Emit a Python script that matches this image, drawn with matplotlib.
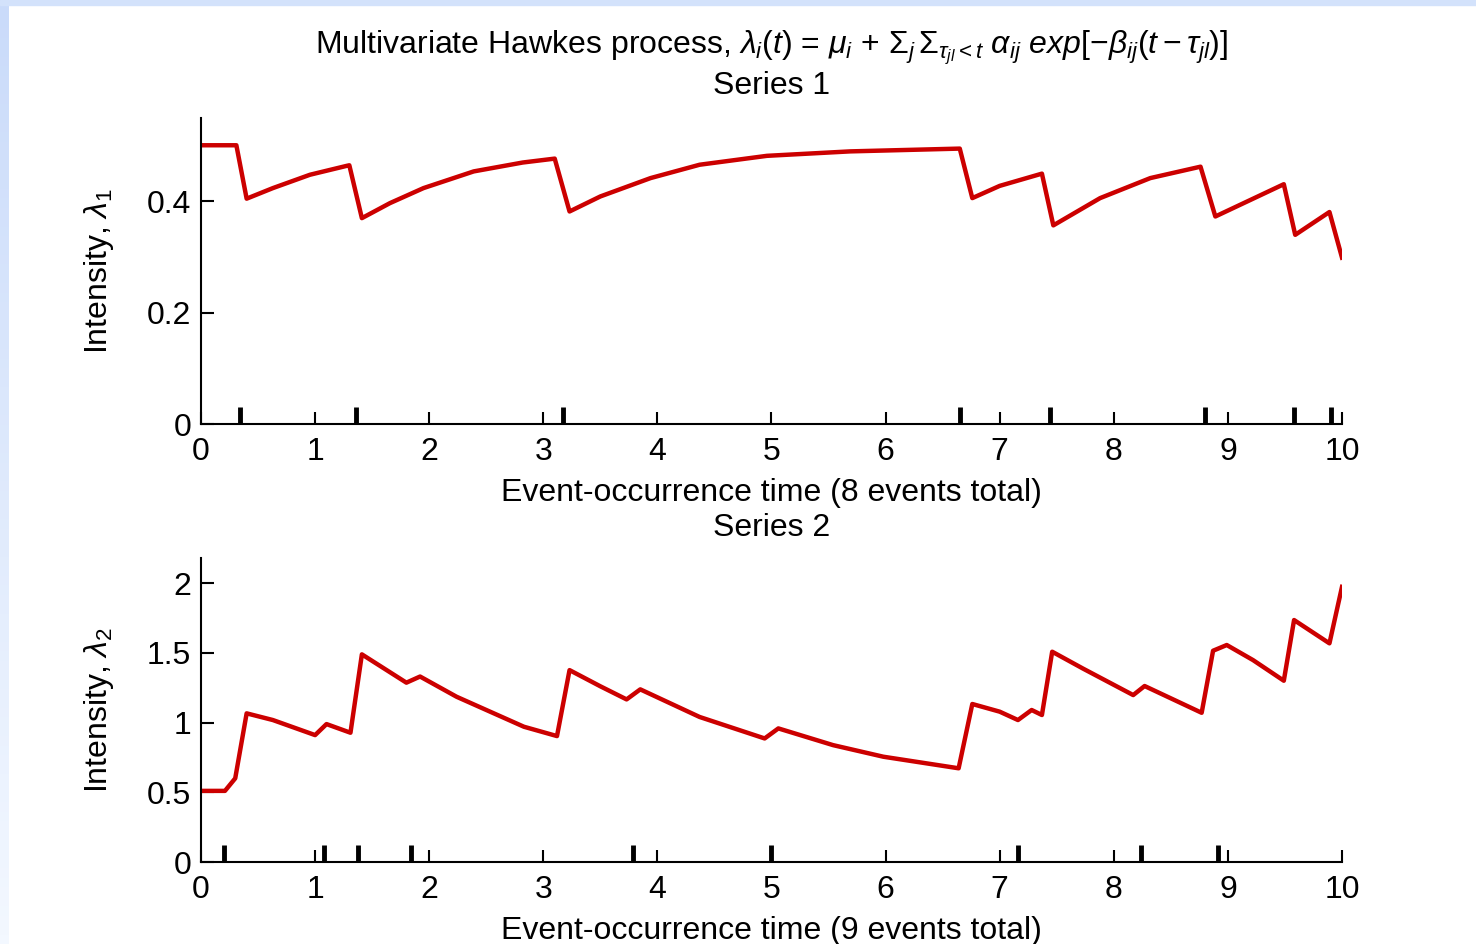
import numpy as np
import matplotlib
matplotlib.use('Agg')
import matplotlib.pyplot as plt

plt.rcParams['font.family'] = ['Liberation Sans', 'DejaVu Sans']
plt.rcParams['mathtext.fontset'] = 'custom'
plt.rcParams['mathtext.it'] = 'Liberation Sans:italic'
plt.rcParams['mathtext.rm'] = 'Liberation Sans'

# event times
events_1 = [0.34, 1.36, 3.17, 6.65, 7.44, 8.80, 9.58, 9.90]
events_2 = [0.20, 1.08, 1.38, 1.84, 3.79, 5.00, 7.16, 8.24, 8.91]

# intensity of series 1 (vertices)
t_1 = [0.00, 0.31, 0.40, 0.63, 0.955, 1.277, 1.30, 1.41, 1.656, 1.95, 2.39, 2.82, 3.10,
       3.23, 3.50, 3.94, 4.37, 4.96, 5.69, 6.65, 6.76, 7.00, 7.37, 7.47, 7.88, 8.32,
       8.76, 8.89, 9.49, 9.59, 9.89, 10.0]
lam_1 = [0.501, 0.501, 0.405, 0.424, 0.448, 0.464, 0.465, 0.370, 0.397, 0.424, 0.454, 0.470, 0.477,
         0.382, 0.409, 0.442, 0.466, 0.482, 0.490, 0.495, 0.406, 0.428, 0.450, 0.357, 0.406, 0.442,
         0.4625, 0.373, 0.431, 0.340, 0.381, 0.299]

# intensity of series 2
t_2 = [0.00, 0.21, 0.30, 0.40, 0.63, 1.00, 1.10, 1.31, 1.41, 1.80, 1.92, 2.24, 2.83, 3.12,
       3.23, 3.50, 3.73, 3.85, 4.37, 4.94, 5.06, 5.54, 5.98, 6.64, 6.76, 7.00, 7.16, 7.28,
       7.37, 7.46, 7.73, 8.17, 8.27, 8.77, 8.87, 8.99, 9.22, 9.49, 9.58, 9.89, 10.0]
lam_2 = [0.51, 0.51, 0.60, 1.066, 1.018, 0.91, 0.989, 0.927, 1.489, 1.286, 1.33, 1.185, 0.97, 0.903,
         1.376, 1.26, 1.166, 1.238, 1.04, 0.886, 0.958, 0.838, 0.755, 0.672, 1.133, 1.078, 1.018, 1.09,
         1.054, 1.508, 1.387, 1.197, 1.262, 1.07, 1.515, 1.556, 1.448, 1.30, 1.735, 1.568, 1.973]

red = '#cc0000'
fs = 23
fig = plt.figure(figsize=(14.76, 9.44), dpi=100)
fig.patch.set_facecolor('white')

# slide border: light blue strip on top and left
grad = fig.add_axes([0, 0, 9/1476, 1])
grad.imshow(np.linspace(0, 1, 100).reshape(-1, 1), aspect='auto',
            cmap=matplotlib.colors.LinearSegmentedColormap.from_list('b', ['#cadbfa', '#f3f8ff']))
grad.axis('off')
fig.patches.append(plt.Rectangle((0, 1 - 5/944), 1, 5/944, transform=fig.transFigure, color='#d3e2fb', zorder=0))

def style_axes(ax, ylim, yticks, yticklabels, ylabel, xlabel, events):
    ax.set_xlim(0, 10)
    ax.set_ylim(*ylim)
    ax.spines['top'].set_visible(False)
    ax.spines['right'].set_visible(False)
    for s in ['left', 'bottom']:
        ax.spines[s].set_linewidth(1.5)
    ax.set_xticks(range(11))
    ax.set_yticks(yticks)
    ax.set_yticklabels(yticklabels)
    ax.tick_params(direction='in', length=9, width=1.5, labelsize=fs, pad=7)
    ax.tick_params(axis='x', pad=9)
    ax.set_xlabel(xlabel, fontsize=fs, labelpad=8)
    ax.set_ylabel(ylabel, fontsize=fs, labelpad=22)
    ax.vlines(events, 0, 0.056, transform=ax.get_xaxis_transform(), colors='black', linewidth=3.5, clip_on=False)

ax1 = fig.add_axes([201/1476, 1 - 424/944, 1141/1476, 306/944])
ax1.plot(t_1, lam_1, color=red, linewidth=3.2)
style_axes(ax1, (0, 0.55), [0, 0.2, 0.4], ['0', '0.2', '0.4'], r'Intensity, $\lambda_1$',
           'Event-occurrence time (8 events total)', events_1)
ax1.set_title('Multivariate Hawkes process, $\\lambda_i(t)$ = $\\mu_i$ + $\\Sigma_j\\,\\Sigma_{\\tau_{jl}<t}$ '
              '$\\alpha_{ij}$ $exp[-\\beta_{ij}(t-\\tau_{jl})]$\nSeries 1', fontsize=fs, pad=17, linespacing=1.2)

ax2 = fig.add_axes([201/1476, 1 - 862/944, 1141/1476, 304/944])
ax2.plot(t_2, lam_2, color=red, linewidth=3.2)
style_axes(ax2, (0, 2.18), [0, 0.5, 1, 1.5, 2], ['0', '0.5', '1', '1.5', '2'], r'Intensity, $\lambda_2$',
           'Event-occurrence time (9 events total)', events_2)
ax2.set_title('Series 2', fontsize=fs, pad=16)

fig.savefig('out.png', dpi=100, facecolor='white')
